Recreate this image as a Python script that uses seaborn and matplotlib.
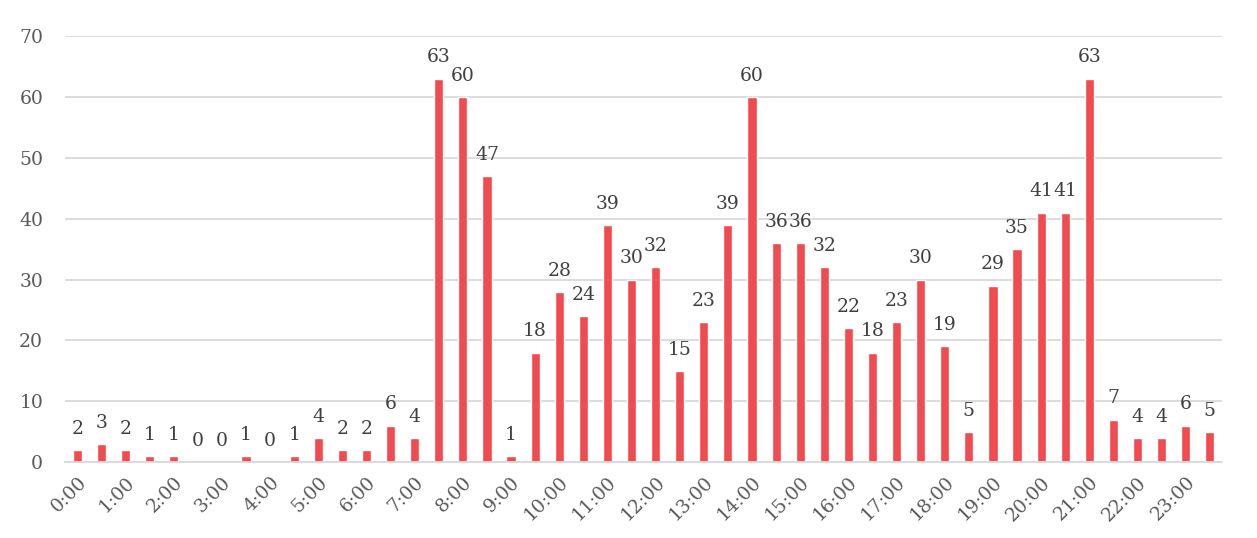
import pandas as pd
import matplotlib
matplotlib.use("Agg")
import matplotlib.pyplot as plt
import seaborn as sns

# half-hour slots 0:00 .. 23:30
slots = [f"{h}:{m:02d}" for h in range(24) for m in (0, 30)]
counts = [2, 3, 2, 1, 1, 0, 0, 1, 0, 1,
          4, 2, 2, 6, 4, 63, 60, 47, 1, 18,
          28, 24, 39, 30, 32, 15, 23, 39, 60, 36,
          36, 32, 22, 18, 23, 30, 19, 5, 29, 35,
          41, 41, 63, 7, 4, 4, 6, 5]
tick_labels = [f"{h}:00" for h in range(24)]

df = pd.DataFrame({"slot": slots, "count": counts})

sns.set_theme(style="white")
plt.rcParams["font.family"] = ["DejaVu Serif"]

fig = plt.figure(figsize=(12.57, 5.38), dpi=100)
ax = fig.add_axes([0.052, 0.141, 0.92, 0.792])

sns.barplot(data=df, x="slot", y="count", color="#F24B4F", saturation=1,
            width=0.38, ax=ax)

# data labels
for i, v in enumerate(counts):
    ax.text(i, v + 2.0, str(v), ha="center", va="bottom",
            fontsize=13.5, color="#404040")

ax.set_xlim(-0.5, len(slots) - 0.5)
ax.set_ylim(0, 70)
ax.set_yticks(range(0, 71, 10))
ax.tick_params(axis="y", labelsize=13.5, labelcolor="#595959", length=0, pad=16)
ax.set_xticks(range(0, len(slots), 2))
ax.set_xticklabels(tick_labels, rotation=45, ha="right", rotation_mode="anchor",
                   fontsize=13.5, color="#595959")
ax.tick_params(axis="x", length=0, pad=8)
ax.set_xlabel("")
ax.set_ylabel("")

ax.yaxis.grid(True, color="#D9D9D9", linewidth=1.3)
ax.set_axisbelow(True)
for s in ["top", "right", "left"]:
    ax.spines[s].set_visible(False)
ax.spines["bottom"].set_color("#D9D9D9")
ax.spines["bottom"].set_linewidth(1.3)

fig.savefig("out.png", dpi=100)
